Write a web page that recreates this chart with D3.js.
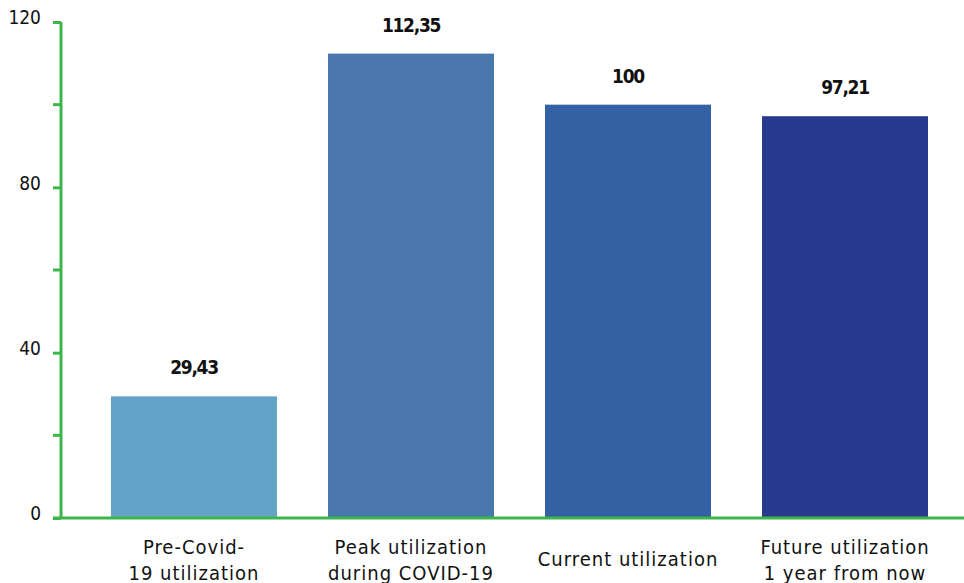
<!DOCTYPE html>
<html>
<head>
<meta charset="utf-8">
<script src="https://cdn.jsdelivr.net/npm/d3@7"></script>
<style>
  body { margin: 0; background: #fff; }
  text { font-family: "DejaVu Sans Condensed", "DejaVu Sans", sans-serif; }
</style>
</head>
<body>
<div id="chart"></div>
<script>
var categories = [
  ["Pre-Covid-", "19 utilization"],
  ["Peak utilization", "during COVID-19"],
  ["Current utilization"],
  ["Future utilization", "1 year from now"]
];
var values = [29.43, 112.35, 100, 97.21];
var valueLabels = ["29,43", "112,35", "100", "97,21"];
var barColors = ["#62a3c7", "#4876ad", "#3461a3", "#283a8e"];
var yTicks = [0, 40, 80, 120];
var yMinorTicks = [20, 60, 100];

var width = 964, height = 583;
var green = "#3cb54a";

var svg = d3.select('#chart')
  .append('svg')
  .attr('width', width)
  .attr('height', height);

var x = d3.scaleBand()
  .domain(d3.range(values.length))
  .range([85.5, 953.5])
  .paddingInner(0.235)
  .paddingOuter(0.1175);

var y = d3.scaleLinear()
  .domain([0, 120])
  .range([518, 22]);

// bars
svg.selectAll('rect.bar')
  .data(values)
  .enter()
  .append('rect')
  .attr('class', 'bar')
  .attr('x', (d, i) => x(i))
  .attr('y', d => y(d))
  .attr('width', x.bandwidth())
  .attr('height', d => y(0) - y(d))
  .attr('fill', (d, i) => barColors[i]);

// value labels
svg.selectAll('text.val')
  .data(values)
  .enter()
  .append('text')
  .attr('class', 'val')
  .attr('x', (d, i) => x(i) + x.bandwidth() / 2)
  .attr('y', d => y(d) - 22)
  .attr('text-anchor', 'middle')
  .attr('font-size', '19px')
  .attr('font-weight', 'bold')
  .attr('letter-spacing', '-1.3px')
  .attr('fill', '#111')
  .text((d, i) => valueLabels[i]);

// y axis
var yAxis = d3.axisLeft(y).tickValues(yTicks).tickSize(8).tickPadding(12);
var gy = svg.append('g')
  .attr('transform', 'translate(61,0)')
  .call(yAxis);
gy.select('.domain').attr('stroke', green).attr('stroke-width', 3)
  .attr('d', 'M0,' + y(120) + 'V' + y(0));
gy.selectAll('.tick line').attr('stroke', green).attr('stroke-width', 3);
gy.selectAll('.tick text')
  .attr('font-size', '19px')
  .attr('fill', '#111')
  .attr('font-family', '"DejaVu Sans Condensed", "DejaVu Sans", sans-serif')
  .attr('dy', '0.1em');

gy.selectAll('line.minor')
  .data(yMinorTicks)
  .enter()
  .append('line')
  .attr('class', 'minor')
  .attr('x1', -8).attr('x2', 0)
  .attr('y1', d => y(d)).attr('y2', d => y(d))
  .attr('stroke', green).attr('stroke-width', 3);

// x axis line
svg.append('line')
  .attr('x1', 53).attr('x2', width)
  .attr('y1', y(0)).attr('y2', y(0))
  .attr('stroke', green).attr('stroke-width', 3);

// category labels
var cat = svg.selectAll('text.cat')
  .data(categories)
  .enter()
  .append('text')
  .attr('class', 'cat')
  .attr('text-anchor', 'middle')
  .attr('font-family', '"DejaVu Sans", sans-serif')
  .attr('font-size', '20px')
  .attr('letter-spacing', '1px')
  .attr('fill', '#111')
  .attr('x', (d, i) => x(i) + x.bandwidth() / 2)
  .attr('y', d => d.length === 1 ? 566 : 554);

cat.selectAll('tspan')
  .data(d => d)
  .enter()
  .append('tspan')
  .attr('x', function() { return d3.select(this.parentNode).attr('x'); })
  .attr('dy', (d, i) => i === 0 ? 0 : 26)
  .text(d => d);
</script>
</body>
</html>
